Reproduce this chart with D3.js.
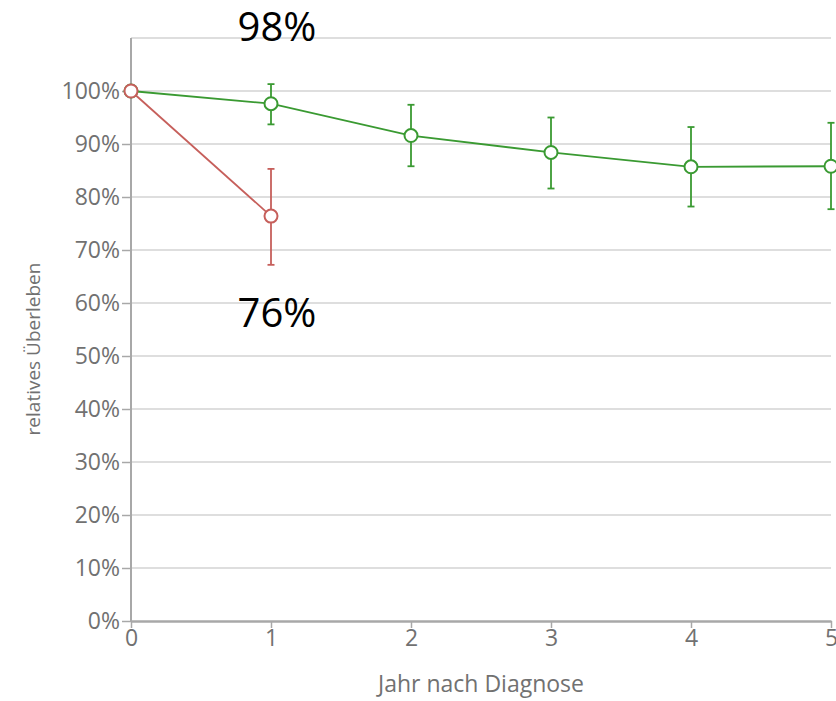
<!DOCTYPE html>
<html>
<head>
<meta charset="utf-8">
<script src="https://cdn.jsdelivr.net/npm/d3@7"></script>
<style>
  html, body { margin: 0; padding: 0; background: #fff; }
  svg { display: block; }
</style>
</head>
<body>
<svg id="chart" width="836" height="701"></svg>
<script>
// Years after diagnosis
const years = [0, 1, 2, 3, 4, 5];
const yTickValues = [0, 10, 20, 30, 40, 50, 60, 70, 80, 90, 100];
const gridValues = [10, 20, 30, 40, 50, 60, 70, 80, 90, 100, 110];

// Green series: relative survival (%) with confidence bounds
const greenYears = [0, 1, 2, 3, 4, 5];
const greenValues = [100, 97.6, 91.6, 88.4, 85.7, 85.8];
const greenLow = [null, 93.7, 85.8, 81.6, 78.2, 77.7];
const greenHigh = [null, 101.3, 97.4, 95.0, 93.2, 94.0];

// Red series
const redYears = [0, 1];
const redValues = [100, 76.4];
const redLow = [null, 67.2];
const redHigh = [null, 85.3];

const GREEN = "#3a9a32";
const RED = "#c65f5b";
const FONT = "'Open Sans', 'Noto Sans', sans-serif";
const LABEL = "#717171";

const svg = d3.select("#chart");
const plotLeft = 131, plotRight = 831, plotTop = 38, plotBottom = 621;

const x = d3.scaleLinear().domain([0, 5]).range([plotLeft, plotRight]);
const y = d3.scaleLinear().domain([0, 110]).range([plotBottom, plotTop]);

// Horizontal grid lines
svg.append("g")
  .selectAll("line")
  .data(gridValues)
  .join("line")
  .attr("x1", plotLeft).attr("x2", plotRight)
  .attr("y1", d => y(d)).attr("y2", d => y(d))
  .attr("stroke", "#dedede")
  .attr("stroke-width", 2);

// Y axis
const yAxis = svg.append("g")
  .attr("transform", `translate(${plotLeft},0)`)
  .call(d3.axisLeft(y).tickValues(yTickValues).tickFormat(d => d + "%").tickSize(9).tickSizeOuter(0).tickPadding(2));
yAxis.select(".domain").attr("stroke", "#a8a8a8").attr("stroke-width", 2)
  .attr("d", `M0,${y(110)}V${plotBottom}`);
yAxis.selectAll(".tick line").attr("stroke", "#a8a8a8").attr("stroke-width", 1.5);
yAxis.selectAll(".tick text").attr("fill", LABEL).style("font-family", FONT).style("font-size", "23px");

// X axis
const xAxis = svg.append("g")
  .attr("transform", `translate(0,${plotBottom})`)
  .call(d3.axisBottom(x).tickValues(years).tickFormat(d3.format("d")).tickSize(7).tickSizeOuter(0).tickPadding(2));
xAxis.select(".domain").attr("stroke", "#a8a8a8").attr("stroke-width", 2.5);
xAxis.selectAll(".tick line").attr("stroke", "#a8a8a8").attr("stroke-width", 1.5);
xAxis.selectAll(".tick text").attr("fill", LABEL).style("font-family", FONT).style("font-size", "23px");

// Axis titles
svg.append("text")
  .attr("x", 481)
  .attr("y", 692)
  .attr("text-anchor", "middle")
  .attr("fill", LABEL)
  .style("font-family", FONT).style("font-size", "23px")
  .text("Jahr nach Diagnose");

svg.append("text")
  .attr("transform", `translate(40,349) rotate(-90)`)
  .attr("text-anchor", "middle")
  .attr("fill", LABEL)
  .style("font-family", FONT).style("font-size", "19px")
  .text("relatives Überleben");

// Draw a series: line, error bars, hollow markers
function drawSeries(xs, vals, lows, highs, color) {
  const pts = xs.map((d, i) => ({ x: d, v: vals[i], lo: lows[i], hi: highs[i] }));
  const g = svg.append("g");
  g.append("path")
    .datum(pts)
    .attr("fill", "none")
    .attr("stroke", color)
    .attr("stroke-width", 1.8)
    .attr("d", d3.line().x(d => x(d.x)).y(d => y(d.v)));

  const eb = pts.filter(d => d.lo != null);
  g.selectAll("line.err").data(eb).join("line")
    .attr("class", "err")
    .attr("x1", d => x(d.x)).attr("x2", d => x(d.x))
    .attr("y1", d => y(d.lo)).attr("y2", d => y(d.hi))
    .attr("stroke", color).attr("stroke-width", 1.8);
  g.selectAll("line.capHi").data(eb).join("line")
    .attr("class", "capHi")
    .attr("x1", d => x(d.x) - 3.5).attr("x2", d => x(d.x) + 3.5)
    .attr("y1", d => y(d.hi)).attr("y2", d => y(d.hi))
    .attr("stroke", color).attr("stroke-width", 1.8);
  g.selectAll("line.capLo").data(eb).join("line")
    .attr("class", "capLo")
    .attr("x1", d => x(d.x) - 3.5).attr("x2", d => x(d.x) + 3.5)
    .attr("y1", d => y(d.lo)).attr("y2", d => y(d.lo))
    .attr("stroke", color).attr("stroke-width", 1.8);

  g.selectAll("circle").data(pts).join("circle")
    .attr("cx", d => x(d.x)).attr("cy", d => y(d.v))
    .attr("r", 6.5)
    .attr("fill", "#fff")
    .attr("stroke", color)
    .attr("stroke-width", 2);
}

drawSeries(greenYears, greenValues, greenLow, greenHigh, GREEN);
drawSeries(redYears, redValues, redLow, redHigh, RED);

// Value annotations for year 1
const annot = [
  { v: greenValues[1], y: 41 },
  { v: redValues[1], y: 327 }
];
svg.selectAll("text.annot").data(annot).join("text")
  .attr("class", "annot")
  .attr("x", x(1) + 6)
  .attr("y", d => d.y)
  .attr("text-anchor", "middle")
  .attr("fill", "#000")
  .style("font-family", FONT).style("font-size", "40px")
  .text(d => Math.round(d.v) + "%");
</script>
</body>
</html>
